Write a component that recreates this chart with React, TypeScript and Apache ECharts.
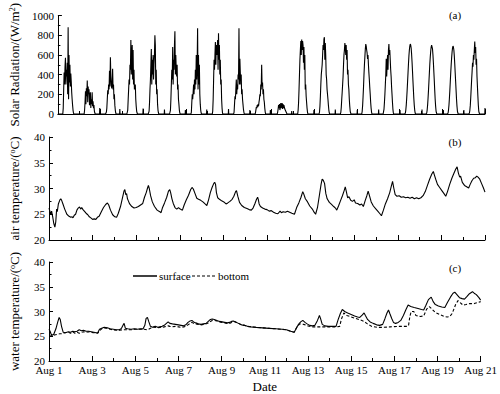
import React, { useEffect, useRef } from "react";
import * as echarts from "echarts";

const FONT = "Liberation Serif";

// Day axis: value = days since Aug 1 00:00
const dayTickLabels = (v: number) => "Aug " + (v + 1);

// Solar radiation: half-hourly values from 05:30 to 19:00 for each day (Aug 1 .. Aug 20)
const solarStartHour = 5.5;
const solarStepHour = 0.5;
const solarDaily: number[][] = [
  [0, 60, 250, 420, 300, 480, 570, 300, 450, 380, 520, 200, 880, 150, 600, 320, 500, 280, 410, 330, 220, 150, 90, 40, 10, 0, 0, 0],
  [0, 40, 120, 230, 100, 260, 180, 340, 120, 280, 200, 250, 90, 170, 220, 60, 150, 100, 220, 80, 130, 60, 90, 30, 10, 0, 0, 0],
  [0, 0, 20, 60, 150, 240, 200, 300, 250, 440, 280, 575, 380, 300, 260, 320, 460, 250, 300, 150, 200, 90, 40, 10, 0, 0, 0, 0],
  [0, 0, 40, 150, 250, 350, 300, 500, 450, 750, 400, 600, 700, 350, 650, 300, 450, 250, 280, 300, 150, 80, 30, 10, 0, 0, 0, 0],
  [0, 0, 30, 120, 250, 350, 500, 660, 300, 550, 400, 600, 350, 500, 600, 800, 700, 300, 450, 200, 250, 100, 40, 10, 0, 0, 0, 0],
  [0, 0, 40, 150, 300, 450, 350, 680, 300, 550, 450, 700, 840, 400, 600, 450, 380, 500, 250, 300, 150, 100, 40, 10, 0, 0, 0, 0],
  [0, 20, 120, 200, 150, 220, 300, 200, 350, 250, 450, 300, 600, 350, 500, 870, 250, 600, 300, 500, 200, 100, 40, 10, 0, 0, 0, 0],
  [0, 30, 150, 350, 550, 450, 600, 730, 500, 700, 600, 650, 750, 450, 820, 550, 700, 400, 550, 300, 350, 150, 60, 10, 0, 0, 0, 0],
  [0, 20, 100, 180, 150, 250, 350, 200, 300, 250, 400, 350, 870, 300, 560, 420, 300, 400, 200, 250, 150, 100, 50, 20, 0, 0, 0, 0],
  [0, 10, 40, 70, 60, 90, 70, 100, 80, 120, 150, 200, 180, 300, 250, 500, 280, 320, 200, 250, 150, 120, 60, 20, 0, 0, 0, 0],
  [0, 0, 0, 20, 50, 90, 60, 100, 40, 70, 110, 60, 90, 110, 50, 100, 60, 90, 70, 50, 40, 30, 20, 10, 0, 0, 0, 0],
  [0, 40, 120, 250, 400, 550, 650, 740, 600, 755, 650, 740, 700, 520, 680, 450, 600, 250, 300, 180, 120, 60, 20, 0, 0, 0, 0, 0],
  [0, 20, 80, 180, 300, 400, 450, 500, 600, 700, 650, 760, 780, 550, 720, 600, 400, 350, 250, 200, 150, 90, 40, 10, 0, 0, 0, 0],
  [0, 20, 70, 150, 220, 300, 380, 500, 600, 650, 720, 680, 600, 700, 550, 650, 400, 450, 300, 250, 150, 80, 30, 10, 0, 0, 0, 0],
  [0, 30, 90, 180, 280, 400, 500, 580, 660, 710, 690, 650, 620, 560, 600, 500, 420, 350, 270, 200, 120, 60, 20, 0, 0, 0, 0, 0],
  [0, 0, 50, 120, 200, 300, 400, 560, 380, 500, 600, 450, 650, 710, 600, 650, 550, 450, 380, 280, 200, 120, 50, 10, 0, 0, 0, 0],
  [0, 0, 10, 40, 90, 160, 240, 330, 420, 510, 590, 650, 690, 710, 700, 670, 610, 530, 440, 340, 250, 160, 90, 40, 10, 0, 0, 0],
  [0, 0, 10, 40, 90, 160, 240, 330, 420, 510, 580, 640, 680, 700, 695, 660, 600, 520, 430, 340, 240, 150, 80, 30, 10, 0, 0, 0],
  [0, 0, 10, 40, 90, 160, 240, 330, 420, 500, 570, 630, 670, 690, 680, 650, 590, 510, 420, 330, 240, 150, 80, 30, 10, 0, 0, 0],
  [0, 0, 10, 40, 90, 170, 260, 350, 430, 520, 480, 600, 550, 650, 735, 620, 680, 500, 560, 380, 280, 180, 90, 30, 10, 0, 0, 0],
];
// Small night-time readings: [day, W/m2]
const solarNightBlips: [number, number][] = [
  [1.96, 60], [2.9, 50], [3.99, 55], [4.99, 45], [5.97, 40], [6.97, 45], [7.99, 50], [8.99, 40],
  [9.95, 40], [10.95, 30], [11.99, 40], [12.99, 45], [14.02, 40], [15.02, 45], [16.02, 40],
  [17.05, 45], [18.05, 40], [19.01, 40], [20.0, 60],
];

// Air temperature [day, degC]
const airTemp: [number, number][] = [
  [0.00,26.2],[0.04,25.6],[0.08,25.0],[0.12,25.6],[0.17,24.5],[0.22,23.2],[0.27,22.5],[0.31,23.5],[0.35,26.0],[0.38,25.5],[0.43,27.0],[0.50,27.8],[0.54,28.0],[0.58,27.7],[0.64,27.0],[0.72,26.0],[0.82,25.0],[0.92,24.6],[1.00,24.4],[1.06,24.5],[1.10,24.3],[1.16,24.8],[1.22,25.0],[1.28,25.8],[1.34,26.2],[1.40,26.4],[1.46,26.0],[1.50,26.3],[1.56,25.9],[1.62,25.6],[1.70,25.2],[1.78,24.9],[1.85,24.5],[1.92,24.3],[2.00,24.0],[2.08,24.1],[2.15,24.0],[2.22,24.4],[2.30,24.6],[2.40,25.5],[2.50,26.3],[2.60,26.9],[2.68,27.2],[2.74,26.8],[2.82,25.8],[2.92,24.9],[3.02,24.5],[3.10,24.4],[3.18,25.2],[3.28,26.5],[3.36,28.0],[3.44,29.5],[3.48,29.8],[3.52,28.8],[3.56,29.0],[3.60,28.0],[3.64,27.6],[3.70,27.0],[3.80,26.5],[3.90,26.2],[4.00,26.3],[4.10,26.5],[4.20,26.8],[4.30,27.1],[4.38,28.3],[4.46,29.2],[4.52,30.1],[4.56,30.6],[4.60,30.0],[4.66,28.6],[4.74,27.4],[4.84,26.5],[4.96,25.8],[5.08,25.5],[5.14,25.3],[5.20,26.2],[5.30,27.2],[5.40,28.3],[5.48,29.5],[5.54,29.8],[5.58,29.2],[5.64,28.0],[5.70,27.1],[5.78,26.3],[5.86,26.0],[5.94,26.3],[6.02,26.0],[6.12,25.8],[6.20,26.8],[6.30,27.8],[6.40,28.7],[6.50,29.8],[6.56,30.2],[6.62,29.9],[6.70,29.0],[6.78,28.1],[6.86,27.9],[6.96,27.7],[7.06,27.4],[7.16,27.0],[7.24,26.7],[7.32,27.8],[7.40,29.2],[7.48,30.2],[7.56,31.0],[7.60,31.2],[7.64,30.8],[7.68,29.2],[7.74,28.2],[7.82,27.9],[7.92,27.6],[8.02,27.4],[8.12,27.0],[8.20,27.2],[8.30,27.5],[8.40,27.9],[8.48,28.5],[8.56,29.4],[8.60,29.6],[8.66,28.5],[8.74,27.3],[8.84,26.7],[8.96,26.3],[9.08,26.1],[9.18,25.9],[9.28,25.8],[9.36,26.2],[9.44,27.0],[9.52,27.9],[9.57,28.3],[9.60,27.9],[9.64,27.0],[9.70,26.5],[9.80,26.2],[9.90,26.0],[10.00,25.9],[10.10,25.6],[10.20,25.7],[10.30,25.4],[10.40,25.2],[10.50,25.1],[10.60,25.6],[10.66,25.3],[10.74,25.5],[10.84,25.4],[10.94,25.6],[11.04,25.4],[11.14,25.2],[11.26,25.0],[11.36,26.3],[11.46,27.2],[11.56,28.3],[11.64,29.4],[11.68,29.0],[11.76,28.0],[11.86,27.4],[11.96,26.6],[12.08,26.0],[12.16,25.4],[12.23,25.0],[12.32,26.4],[12.40,28.6],[12.48,30.8],[12.53,31.8],[12.58,31.6],[12.64,31.0],[12.70,29.0],[12.76,28.0],[12.86,27.3],[12.96,26.9],[13.06,26.5],[13.14,26.2],[13.20,25.8],[13.28,26.6],[13.36,27.5],[13.46,28.6],[13.54,29.6],[13.59,30.3],[13.64,29.4],[13.70,28.2],[13.76,28.4],[13.84,27.7],[13.92,27.5],[14.00,27.8],[14.06,27.2],[14.16,27.1],[14.26,26.8],[14.34,27.0],[14.42,26.5],[14.50,27.6],[14.58,28.6],[14.64,29.5],[14.70,28.6],[14.78,27.4],[14.88,26.6],[15.00,26.0],[15.10,25.5],[15.18,25.1],[15.25,24.7],[15.34,25.8],[15.43,27.0],[15.53,28.0],[15.63,29.2],[15.70,30.4],[15.76,31.4],[15.82,30.0],[15.88,28.8],[15.96,28.5],[16.06,28.6],[16.16,28.3],[16.26,28.4],[16.36,28.2],[16.46,28.3],[16.56,28.1],[16.66,28.3],[16.76,28.0],[16.86,28.2],[16.96,28.0],[17.06,28.2],[17.16,28.6],[17.26,29.4],[17.36,30.6],[17.46,31.8],[17.56,32.8],[17.63,33.3],[17.68,32.6],[17.74,31.8],[17.82,30.8],[17.92,30.2],[18.02,29.6],[18.12,29.0],[18.20,28.5],[18.28,29.4],[18.38,30.8],[18.48,32.0],[18.58,33.0],[18.66,33.8],[18.72,34.2],[18.78,33.0],[18.84,32.2],[18.88,32.4],[18.96,31.2],[19.06,30.6],[19.14,30.4],[19.25,30.1],[19.32,30.8],[19.40,31.5],[19.48,32.0],[19.56,32.1],[19.62,32.4],[19.68,32.2],[19.76,31.8],[19.84,31.0],[19.92,30.2],[20.00,29.3],
];

// Water temperature, surface [day, degC]
const waterSurface: [number, number][] = [
  [0.00,26.4],[0.05,26.0],[0.10,25.4],[0.15,25.2],[0.22,25.4],[0.32,26.5],[0.40,27.8],[0.47,28.8],[0.52,28.4],[0.58,27.0],[0.66,25.8],[0.76,25.7],[0.90,25.9],[1.00,25.8],[1.10,26.0],[1.20,25.9],[1.30,26.0],[1.40,26.3],[1.50,26.1],[1.60,26.2],[1.72,26.0],[1.84,26.0],[1.96,25.9],[2.08,25.8],[2.18,25.7],[2.26,25.7],[2.34,26.4],[2.44,26.6],[2.56,26.8],[2.70,26.7],[2.84,26.5],[2.98,26.4],[3.12,26.3],[3.26,26.3],[3.36,26.6],[3.44,27.3],[3.48,27.6],[3.54,26.6],[3.64,26.5],[3.80,26.4],[3.96,26.5],[4.10,26.4],[4.24,26.5],[4.36,26.5],[4.44,27.2],[4.50,28.6],[4.56,28.8],[4.62,28.0],[4.70,27.0],[4.80,26.8],[4.92,27.0],[5.04,26.8],[5.14,26.9],[5.24,27.0],[5.34,27.2],[5.44,27.6],[5.52,27.9],[5.60,27.6],[5.72,27.5],[5.86,27.4],[6.00,27.3],[6.12,27.2],[6.24,27.1],[6.34,27.3],[6.44,27.8],[6.54,28.1],[6.62,28.2],[6.70,27.9],[6.80,27.7],[6.92,27.5],[7.04,27.4],[7.16,27.5],[7.28,27.6],[7.38,28.0],[7.48,28.4],[7.56,28.5],[7.66,28.4],[7.78,28.2],[7.90,28.0],[8.02,27.9],[8.14,27.8],[8.26,27.7],[8.36,27.8],[8.46,28.0],[8.54,28.1],[8.64,27.9],[8.78,27.6],[8.92,27.3],[9.06,27.2],[9.20,27.0],[9.36,26.9],[9.60,26.8],[9.90,26.7],[10.20,26.6],[10.50,26.5],[10.80,26.4],[11.00,26.3],[11.20,26.0],[11.36,25.8],[11.46,26.6],[11.56,27.4],[11.66,27.9],[11.76,28.2],[11.86,27.8],[11.96,27.5],[12.08,27.2],[12.20,27.1],[12.32,27.2],[12.44,28.2],[12.53,29.2],[12.58,28.6],[12.66,27.4],[12.78,27.1],[12.94,27.0],[13.10,27.0],[13.30,27.0],[13.40,28.4],[13.50,29.6],[13.59,30.4],[13.70,30.0],[13.84,29.7],[14.00,29.4],[14.16,29.1],[14.30,28.9],[14.40,28.8],[14.52,29.3],[14.60,29.7],[14.66,29.2],[14.76,28.4],[14.88,27.9],[15.02,27.6],[15.18,27.3],[15.32,27.2],[15.46,27.4],[15.56,28.5],[15.66,29.7],[15.73,30.3],[15.80,29.5],[15.88,28.6],[15.96,27.8],[16.06,27.6],[16.18,27.8],[16.30,28.2],[16.42,29.2],[16.54,30.4],[16.64,31.3],[16.76,31.0],[16.92,30.8],[17.10,30.6],[17.26,30.4],[17.36,30.3],[17.46,31.2],[17.58,32.4],[17.71,32.9],[17.80,32.0],[17.90,31.4],[18.04,31.1],[18.20,30.9],[18.34,30.8],[18.46,31.8],[18.60,32.9],[18.72,33.7],[18.80,33.9],[18.90,33.4],[19.02,32.8],[19.14,32.6],[19.25,32.5],[19.36,33.0],[19.48,33.6],[19.62,34.0],[19.70,33.7],[19.80,33.4],[19.92,32.8],[20.00,32.3],
];

// Water temperature, bottom [day, degC]
const waterBottom: [number, number][] = [
  [0.00,25.0],[0.10,25.1],[0.20,25.2],[0.30,25.3],[0.40,25.4],[0.50,25.5],[0.60,25.5],[0.74,25.7],[0.90,25.8],[1.00,25.6],[1.10,25.9],[1.20,25.6],[1.30,25.8],[1.40,25.6],[1.50,25.8],[1.60,25.9],[1.72,25.8],[1.84,25.9],[1.96,25.8],[2.08,25.7],[2.18,25.6],[2.26,25.6],[2.34,26.1],[2.44,26.5],[2.56,26.7],[2.70,26.6],[2.84,26.4],[2.98,26.3],[3.12,26.2],[3.26,26.2],[3.40,26.3],[3.50,26.3],[3.64,26.3],[3.80,26.3],[3.96,26.4],[4.10,26.4],[4.24,26.4],[4.40,26.4],[4.56,26.3],[4.70,26.6],[4.80,26.9],[4.92,26.8],[5.04,26.7],[5.14,26.8],[5.24,26.8],[5.34,26.9],[5.44,27.0],[5.52,27.1],[5.60,27.0],[5.72,26.9],[5.86,27.0],[6.00,26.9],[6.12,26.8],[6.24,26.9],[6.34,27.0],[6.44,27.3],[6.54,27.6],[6.62,27.8],[6.70,27.6],[6.80,27.5],[6.92,27.4],[7.04,27.3],[7.16,27.4],[7.28,27.5],[7.38,27.7],[7.48,28.0],[7.56,28.2],[7.66,28.2],[7.78,28.1],[7.90,27.9],[8.02,27.8],[8.14,27.7],[8.26,27.6],[8.36,27.6],[8.46,27.8],[8.54,28.0],[8.64,27.9],[8.78,27.6],[8.92,27.3],[9.06,27.2],[9.20,27.0],[9.36,26.9],[9.60,26.8],[9.90,26.7],[10.20,26.6],[10.50,26.5],[10.80,26.4],[11.00,26.3],[11.20,26.0],[11.36,25.8],[11.50,27.0],[11.62,27.5],[11.80,27.4],[12.00,27.1],[12.20,26.9],[12.60,26.9],[13.00,26.9],[13.30,26.9],[13.47,27.0],[13.55,28.5],[13.66,29.7],[13.80,29.2],[14.00,28.9],[14.20,28.6],[14.42,28.3],[14.60,28.0],[14.72,27.6],[14.95,27.0],[15.20,26.8],[15.50,26.8],[15.80,26.9],[16.20,27.0],[16.60,27.0],[16.66,27.2],[16.72,29.0],[16.78,30.0],[16.90,30.0],[17.00,29.2],[17.20,29.0],[17.36,29.1],[17.50,30.5],[17.62,31.0],[17.72,30.6],[17.90,29.8],[18.10,29.4],[18.30,29.0],[18.45,28.9],[18.57,29.0],[18.68,29.6],[18.84,31.4],[18.95,32.2],[19.05,31.8],[19.18,31.3],[19.32,31.4],[19.50,31.6],[19.70,31.6],[19.85,31.8],[20.00,32.0],
];

const legendNames = ["surface", "bottom"];

function buildSolar(): [number, number][] {
  const pts: [number, number][] = [[0, 0]];
  solarDaily.forEach((vals, d) => {
    vals.forEach((v, i) => {
      pts.push([d + (solarStartHour + solarStepHour * i) / 24, v]);
    });
  });
  solarNightBlips.forEach(([x, v]) => {
    pts.push([x - 0.01, 0]);
    pts.push([x, v]);
    if (x + 0.01 <= 20) pts.push([x + 0.01, 0]);
  });
  pts.sort((a, b) => a[0] - b[0]);
  return pts;
}

const App: React.FC = () => {
  const ref = useRef<HTMLDivElement>(null);

  useEffect(() => {
    if (!ref.current) return;
    const chart = echarts.init(ref.current, null, { renderer: "svg" });
    const black = "#000";
    const gridL = 43;
    const gridR = 15;
    const grids = [
      { left: gridL, right: gridR, top: 12, height: 102 },
      { left: gridL, right: gridR, top: 137, height: 103 },
      { left: gridL, right: gridR, top: 262, height: 103 },
    ];
    const xAxisFor = (gi: number, labels: boolean) => ({
      type: "value",
      gridIndex: gi,
      min: 0,
      max: 20,
      interval: 2,
      name: labels ? "Date" : "",
      nameLocation: "middle",
      nameGap: 19,
      nameTextStyle: { fontFamily: FONT, fontSize: 13, color: black },
      axisLine: { onZero: false, lineStyle: { color: black, width: 1 } },
      axisTick: { inside: true, length: 5, lineStyle: { color: black } },
      minorTick: { show: true, splitNumber: 2, length: 3, lineStyle: { color: black } },
      splitLine: { show: false },
      axisLabel: {
        show: labels,
        formatter: dayTickLabels,
        color: black,
        fontFamily: FONT,
        fontSize: 11,
        margin: 3,
      },
    });
    const rich = {
      t: { fontFamily: FONT, fontSize: 13, color: black },
      s: { fontFamily: FONT, fontSize: 8, color: black, verticalAlign: "top", lineHeight: 10 },
    };
    const yAxisFor = (gi: number, min: number, max: number, interval: number, name: string) => ({
      type: "value",
      gridIndex: gi,
      min,
      max,
      interval,
      name,
      nameLocation: "middle",
      nameRotate: 90,
      nameGap: 28,
      nameTextStyle: { rich },
      axisLine: { onZero: false, lineStyle: { color: black, width: 1 } },
      axisTick: { inside: true, length: 4, lineStyle: { color: black } },
      minorTick: { show: true, splitNumber: 2, length: 2.5, lineStyle: { color: black } },
      splitLine: { show: false },
      axisLabel: {
        color: black,
        fontFamily: FONT,
        fontSize: 11,
        margin: 4,
        formatter: (v: number) => String(v),
      },
    });
    const line = (name: string, gi: number, data: [number, number][], dashed = false) => ({
      name,
      type: "line",
      xAxisIndex: gi,
      yAxisIndex: gi,
      data,
      symbol: "none",
      showSymbol: false,
      lineStyle: { color: black, width: 1.1, type: dashed ? [3, 2] : "solid" },
      itemStyle: { color: black },
    });
    const panelLabel = (txt: string, y: number) => ({
      type: "text",
      x: 455,
      y,
      style: {
        text: txt,
        fontFamily: FONT,
        fontSize: 11,
        fill: black,
        align: "center",
        verticalAlign: "middle",
      },
    });
    const legendY = 276;
    const legendGraphic = [
      { type: "line", shape: { x1: 133, y1: legendY, x2: 157, y2: legendY }, style: { stroke: black, lineWidth: 1.5 } },
      {
        type: "text",
        x: 159,
        y: legendY,
        style: { text: legendNames[0], fontFamily: FONT, fontSize: 11, fill: black, align: "left", verticalAlign: "middle" },
      },
      {
        type: "line",
        shape: { x1: 192, y1: legendY, x2: 215, y2: legendY },
        style: { stroke: black, lineWidth: 1.2, lineDash: [3, 2] },
      },
      {
        type: "text",
        x: 218,
        y: legendY,
        style: { text: legendNames[1], fontFamily: FONT, fontSize: 11, fill: black, align: "left", verticalAlign: "middle" },
      },
    ];

    chart.setOption({
      animation: false,
      backgroundColor: "#fff",
      grid: grids,
      xAxis: [xAxisFor(0, false), xAxisFor(1, false), xAxisFor(2, true)],
      yAxis: [
        yAxisFor(0, 0, 1000, 200, "{t|Solar Radiation/(W/m}{s|2}{t|)}"),
        yAxisFor(1, 20, 40, 5, "{t|air temperature/(}{s|o}{t|C)}"),
        yAxisFor(2, 20, 40, 5, "{t|water temperature/(}{s|o}{t|C)}"),
      ],
      graphic: [panelLabel("(a)", 15), panelLabel("(b)", 142), panelLabel("(c)", 268), ...legendGraphic],
      series: [
        line("solar", 0, buildSolar()),
        line("air", 1, airTemp),
        line(legendNames[0], 2, waterSurface),
        line(legendNames[1], 2, waterBottom, true),
      ],
    });
    return () => chart.dispose();
  }, []);

  return (
    <div
      ref={ref}
      style={{ position: "fixed", left: 0, top: 0, width: 500, height: 394, background: "#fff" }}
    />
  );
};

export default App;
